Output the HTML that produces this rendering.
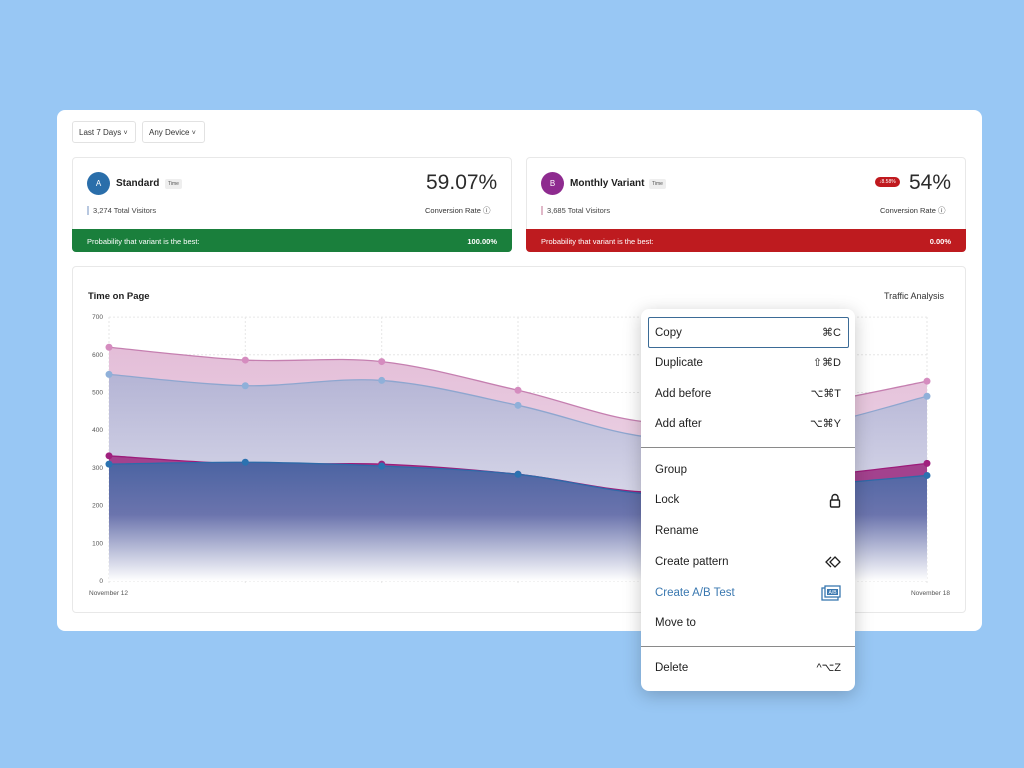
<!DOCTYPE html>
<html><head><meta charset="utf-8"><style>
*{margin:0;padding:0;box-sizing:border-box}
body{width:1024px;height:768px;background:#98c7f4;font-family:"Liberation Sans",sans-serif;position:relative;overflow:hidden;color:#1e1e1e}
.abs{position:absolute}
.main{left:57px;top:110px;width:925px;height:521px;background:#fff;border-radius:8px}
.dd{top:121px;height:22px;border:1px solid #e2e2e2;border-radius:3px;font-size:8px;padding:6px 6px;color:#333;background:#fff;white-space:nowrap}
.card{background:#fff;border:1px solid #e8e8e8;border-radius:4px}
.av{width:23px;height:23px;border-radius:50%;color:#fff;font-size:8px;text-align:center;line-height:23px}
.tag{font-size:5px;background:#eee;padding:2px 3px;border-radius:2px;color:#555}
.bar{height:23px;color:#fff;font-size:7.5px;padding:8px 15px;display:flex;justify-content:space-between;border-radius:0 0 4px 4px}
.menu{left:641px;top:309px;width:214px;height:382px;background:#fff;border-radius:8px;box-shadow:0 4px 18px rgba(0,0,0,.22)}
.it{position:absolute;left:14px;right:14px;height:16px;font-size:11.5px;line-height:16px;color:#1e1e1e;display:flex;justify-content:space-between;align-items:center}
.it span:nth-child(2){font-size:11px;line-height:16px}
.sep{position:absolute;left:0;right:0;height:1px;background:#8a8a8a}
</style></head><body>
<div class="abs main"></div>
<div class="abs dd" style="left:72px;width:64px">Last 7 Days <span style="font-size:7px">&#709;</span></div>
<div class="abs dd" style="left:142px;width:63px">Any Device <span style="font-size:7px">&#709;</span></div>

<div class="abs card" style="left:72px;top:157px;width:440px;height:95px"></div>
<div class="abs av" style="left:87px;top:172px;background:#2a6eaa">A</div>
<div class="abs" style="left:116px;top:178px;font-size:10px;font-weight:bold">Standard</div>
<div class="abs tag" style="left:165px;top:179px">Time</div>
<div class="abs" style="left:426px;top:171px;font-size:21px;color:#2b2b2b">59.07%</div>
<div class="abs" style="left:87px;top:206px;border-left:2px solid #b8c8e0;padding-left:4px;font-size:7.5px;color:#444">3,274 Total Visitors</div>
<div class="abs" style="left:425px;top:205px;font-size:7.5px;color:#333">Conversion Rate &#9432;</div>
<div class="abs bar" style="left:72px;top:229px;width:440px;background:#1a7f3c"><span>Probability that variant is the best:</span><b>100.00%</b></div>

<div class="abs card" style="left:526px;top:157px;width:440px;height:95px"></div>
<div class="abs av" style="left:541px;top:172px;background:#8e2b8f">B</div>
<div class="abs" style="left:570px;top:178px;font-size:10px;font-weight:bold">Monthly Variant</div>
<div class="abs tag" style="left:649px;top:179px">Time</div>
<div class="abs" style="left:875px;top:177px;font-size:5px;background:#c0191e;color:#fff;border-radius:5px;padding:2px 4px">↓8.58%</div>
<div class="abs" style="left:909px;top:171px;font-size:21px;color:#2b2b2b">54%</div>
<div class="abs" style="left:541px;top:206px;border-left:2px solid #e0b8c8;padding-left:4px;font-size:7.5px;color:#444">3,685 Total Visitors</div>
<div class="abs" style="left:880px;top:205px;font-size:7.5px;color:#333">Conversion Rate &#9432;</div>
<div class="abs bar" style="left:526px;top:229px;width:440px;background:#be1b1f"><span>Probability that variant is the best:</span><b>0.00%</b></div>

<div class="abs card" style="left:72px;top:266px;width:894px;height:347px"></div>
<div class="abs" style="left:88px;top:291px;font-size:9.5px;font-weight:bold">Time on Page</div>
<div class="abs" style="left:884px;top:291px;font-size:9px;color:#333">Traffic Analysis</div>

<svg class="abs" style="left:0;top:0" width="1024" height="768" id="ch">
<defs>
<linearGradient id="gp" x1="0" y1="340" x2="0" y2="581" gradientUnits="userSpaceOnUse"><stop offset="0" stop-color="#e3bcd7"/><stop offset="1" stop-color="#f3e6f0"/></linearGradient>
<linearGradient id="gl" x1="0" y1="370" x2="0" y2="581" gradientUnits="userSpaceOnUse"><stop offset="0" stop-color="#b3b3d4"/><stop offset="1" stop-color="#eeeef6"/></linearGradient>
<linearGradient id="gb" x1="0" y1="460" x2="0" y2="581" gradientUnits="userSpaceOnUse"><stop offset="0" stop-color="#4a63a2"/><stop offset="0.45" stop-color="#6b74ad"/><stop offset="1" stop-color="#ffffff"/></linearGradient>
</defs>
<g id="grid" stroke="#e6e6e6" stroke-dasharray="2,2" stroke-width="1"></g>
<g id="series"></g>
<g font-size="6.5" fill="#555" text-anchor="end" id="yl"></g>
<text x="89" y="595" font-size="6.5" fill="#555">November 12</text>
<text x="950" y="595" font-size="6.5" fill="#555" text-anchor="end">November 18</text>
</svg>
<script>
const X=[109,245.3,381.7,518,654.3,790.7,927];
const f=v=>581-0.377*v;
const S=[
 {v:[620,586,582,506,420,460,530],fill:"url(#gp)",st:"#c57fb0",dot:"#d58cbf"},
 {v:[548,518,532,466,380,400,490],fill:"url(#gl)",st:"#8ea6cf",dot:"#8fb0d9"},
 {v:[332,310,310,283,235,270,312],fill:"#a3428e",st:"#9c1c7a",dot:"#a0207e"},
 {v:[310,315,305,283,230,250,280],fill:"url(#gb)",st:"#2e6aa8",dot:"#2b72b0"}];
function path(p){let d=`M${p[0][0]},${p[0][1]}`;for(let i=0;i<p.length-1;i++){const a=p[i-1]||p[i],b=p[i],c=p[i+1],e=p[i+2]||c;
d+=` C${b[0]+(c[0]-a[0])/6},${b[1]+(c[1]-a[1])/6} ${c[0]-(e[0]-b[0])/6},${c[1]-(e[1]-b[1])/6} ${c[0]},${c[1]}`;}return d;}
let g="",grid="",yl="";
for(let k=0;k<=7;k++){const y=f(k*100);grid+=`<line x1="109" x2="927" y1="${y}" y2="${y}"/>`;yl+=`<text x="103" y="${y+2}">${k*100}</text>`;}
X.forEach(x=>grid+=`<line x1="${x}" x2="${x}" y1="317" y2="585"/>`);
S.forEach(s=>{const p=s.v.map((v,i)=>[X[i],f(v)]);const d=path(p);
g+=`<path d="${d} L927,581 L109,581 Z" fill="${s.fill}"/><path d="${d}" fill="none" stroke="${s.st}" stroke-width="1.3"/>`;
p.forEach(q=>g+=`<circle cx="${q[0]}" cy="${q[1]}" r="3.5" fill="${s.dot}"/>`);});
document.getElementById("grid").innerHTML=grid;document.getElementById("series").innerHTML=g;document.getElementById("yl").innerHTML=yl;
</script>

<div class="abs menu">
 <div style="position:absolute;left:7px;top:8px;width:201px;height:31px;border:1.5px solid #3b6b96;border-radius:2px"></div>
 <div class="it" style="top:16px"><span>Copy</span><span>⌘C</span></div>
 <div class="it" style="top:46px"><span>Duplicate</span><span>⇧⌘D</span></div>
 <div class="it" style="top:77px"><span>Add before</span><span>⌥⌘T</span></div>
 <div class="it" style="top:107px"><span>Add after</span><span>⌥⌘Y</span></div>
 <div class="sep" style="top:138px"></div>
 <div class="it" style="top:153px"><span>Group</span></div>
 <div class="it" style="top:183px"><span>Lock</span><svg width="12" height="15" viewBox="0 0 12 15"><path d="M3 7V4.5a3 3 0 0 1 6 0V7" fill="none" stroke="#1e1e1e" stroke-width="1.4"/><rect x="1.5" y="7" width="9" height="7" rx="1" fill="none" stroke="#1e1e1e" stroke-width="1.4"/></svg></div>
 <div class="it" style="top:214px"><span>Rename</span></div>
 <div class="it" style="top:245px"><span>Create pattern</span><svg width="16" height="12" viewBox="0 0 16 12"><path d="M6 1L1 6l5 5M10 1l5 5-5 5L5 6z" fill="none" stroke="#1e1e1e" stroke-width="1.3"/></svg></div>
 <div class="it" style="top:276px;color:#3a78b0"><span>Create A/B Test</span><svg width="20" height="16" viewBox="0 0 20 16"><rect x="1" y="3" width="16" height="12" fill="none" stroke="#3a78b0" stroke-width="1.3"/><rect x="4" y="1" width="15" height="11" fill="#fff" stroke="#3a78b0" stroke-width="1.3"/><rect x="6" y="4" width="11" height="6" fill="#3a78b0"/><text x="11.5" y="9" font-size="5" fill="#fff" text-anchor="middle">A/B</text></svg></div>
 <div class="it" style="top:306px"><span>Move to</span></div>
 <div class="sep" style="top:337px"></div>
 <div class="it" style="top:351px"><span>Delete</span><span>^⌥Z</span></div>
</div>
</body></html>
